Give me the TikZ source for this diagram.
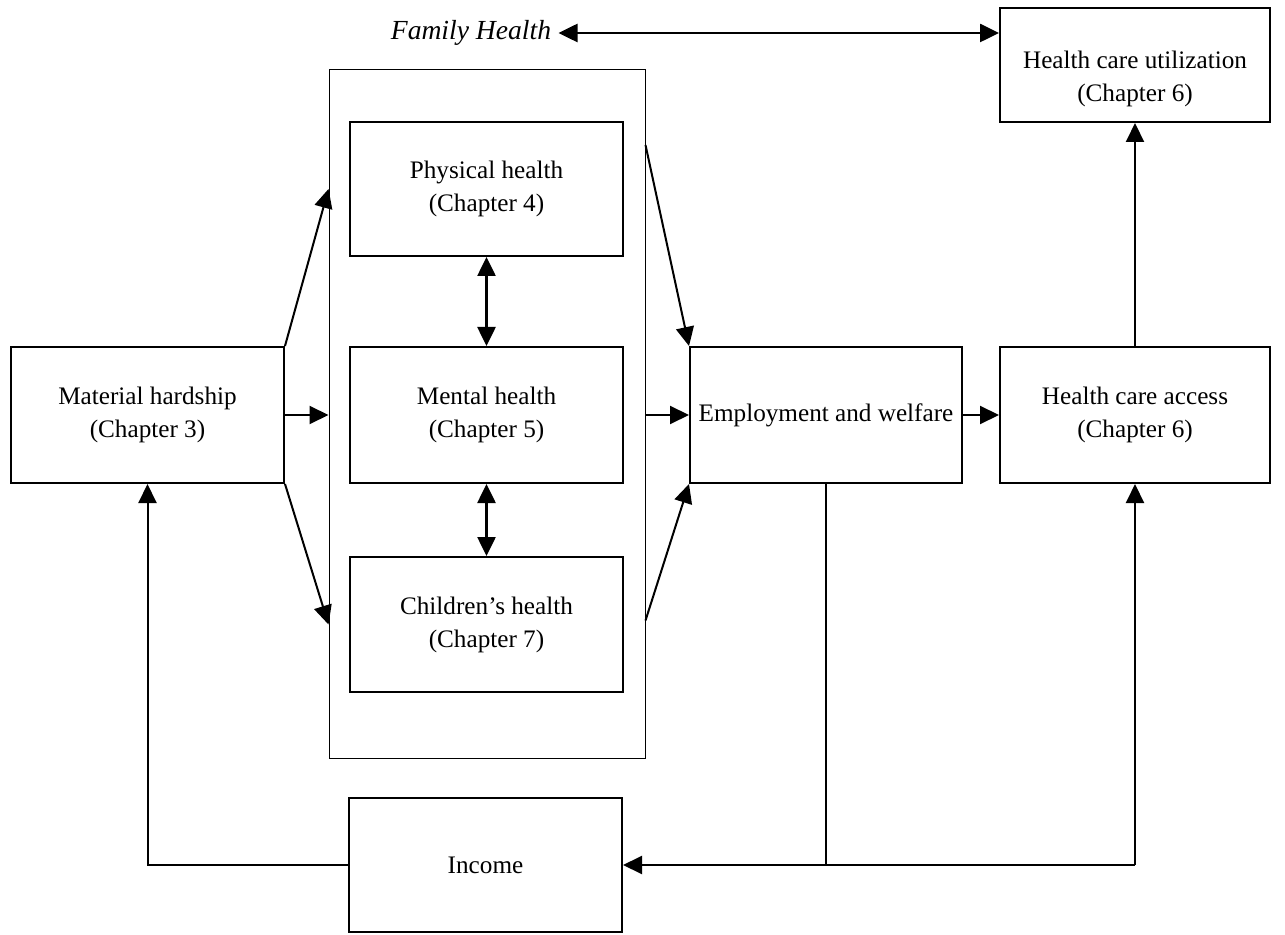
\documentclass[tikz,border=0pt]{standalone}
\usepackage{fontspec}
\setmainfont{Liberation Serif}
\usetikzlibrary{arrows.meta,calc}
\begin{document}
\begin{tikzpicture}[x=0.5pt,y=-0.5pt,
 box/.style={draw,line width=1pt,minimum width=136.5pt,minimum height=67.5pt,align=center,inner sep=0pt,font=\fontsize{12.6}{16.5}\selectfont},
 frame/.style={draw,line width=0.5pt,minimum width=158pt,minimum height=344pt,inner sep=0pt},
 tip/.tip={Triangle[length=9.5pt,width=9pt]},
 arr/.style={line width=1pt,-tip},
 darr/.style={line width=1.3pt,tip-tip},
 ln/.style={line width=1pt}]
\useasboundingbox (0,0) rectangle (1285,935);
\node[frame] (outer) at (487,414) {};
\node[box,minimum width=135pt,minimum height=57pt,
  label={[align=center,font=\fontsize{12.6}{16.5}\selectfont,yshift=-7pt]center:Health care utilization\\(Chapter 6)}] (util) at (1135,65) {};
\node[font=\fontsize{13.8}{16.5}\selectfont\itshape,inner sep=3.5pt] (fam) at (471,33) {Family Health};
\node[box,minimum height=67pt] (phys) at (486.5,189) {Physical health\\(Chapter 4)};
\node[box,minimum height=68pt] (ment) at (486.5,415) {Mental health\\(Chapter 5)};
\node[box] (child) at (486.5,624.5) {Children's health\\(Chapter 7)};
\node[box,minimum height=68pt] (mat) at (147.5,415) {Material hardship\\(Chapter 3)};
\node[box,minimum width=136pt,minimum height=68pt] (emp) at (826,415) {Employment and welfare};
\node[box,minimum width=135pt,minimum height=68pt] (acc) at (1135,415) {Health care access\\(Chapter 6)};
\node[box,minimum height=67pt] (inc) at (485.5,865) {Income};
% arrows
\draw[darr] (fam.east) -- (util.west |- fam.east);
\draw[darr] (phys.south) -- (ment.north);
\draw[darr] (ment.south) -- (child.north);
\draw[arr] (mat.north east) -- (outer.west |- phys.east);
\draw[arr] (mat.east) -- (outer.west |- mat.east);
\draw[arr] (mat.south east) -- (outer.west |- child.east);
\draw[arr] ($(outer.east |- phys.east)+(0,-44)$) -- (emp.north west);
\draw[arr] (outer.east |- emp.west) -- (emp.west);
\draw[arr] ($(outer.east |- child.east)+(0,-4)$) -- (emp.south west);
\draw[arr] (emp.east) -- (acc.west);
\draw[arr] (acc.north) -- (util.south);
\draw[ln] (emp.south) -- (emp.south |- inc.east);
\draw[arr] (acc.south |- inc.east) -- (inc.east);
\draw[arr] (acc.south |- inc.east) -- (acc.south);
\draw[arr] (inc.west) -| (mat.south);
\end{tikzpicture}
\end{document}
